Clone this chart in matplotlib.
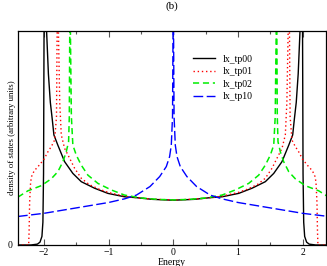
import numpy as np
import matplotlib
matplotlib.use("Agg")
import matplotlib.pyplot as plt
from matplotlib.ticker import MultipleLocator

plt.rcParams['font.family'] = ['Liberation Serif', 'DejaVu Serif']

# energies / density of states (values above 0.75 are clipped peaks)
e_tp00 = [-2.40, -2.20, -2.10, -2.06, -2.03, -2.015, -2.005, -1.995, -1.975, -1.958,
          -1.93, -1.90, -1.87, -1.845, -1.784, -1.679, -1.552, -1.422, -1.216, -1.011,
          -0.753, -0.572, -0.32, 0.0, 0.32, 0.572, 0.753, 1.011, 1.216, 1.422, 1.552,
          1.679, 1.784, 1.845, 1.87, 1.90, 1.93, 1.958, 1.975, 1.995, 2.005, 2.015,
          2.03, 2.06, 2.10, 2.20, 2.40]
dos_tp00 = [0.0, 0.0, 0.003, 0.010, 0.030, 0.08, 0.25, 0.9, 1.2, 0.75,
            0.60, 0.50, 0.44, 0.386, 0.350, 0.292, 0.251, 0.222, 0.199, 0.181,
            0.169, 0.166, 0.160, 0.157, 0.160, 0.166, 0.169, 0.181, 0.199, 0.222, 0.251,
            0.292, 0.350, 0.386, 0.44, 0.50, 0.60, 0.75, 1.2, 0.9, 0.25, 0.08,
            0.030, 0.010, 0.003, 0.0, 0.0]

e_tp01 = [-2.40, -2.235, -2.228, -2.22, -2.205, -2.19, -2.15, -2.09, -2.0, -1.93,
          -1.885, -1.834, -1.805, -1.795, -1.785, -1.775, -1.755, -1.731, -1.680, -1.602,
          -1.525, -1.422, -1.30, -1.15, -1.00, -0.75, -0.50, -0.25, 0.0,
          0.25, 0.50, 0.75, 1.00, 1.15, 1.30, 1.422, 1.525, 1.602, 1.680, 1.731,
          1.755, 1.775, 1.785, 1.795, 1.805, 1.834, 1.885, 1.93, 2.0, 2.09, 2.15,
          2.19, 2.205, 2.22, 2.228, 2.235, 2.40]
dos_tp01 = [0.0, 0.0, 0.05, 0.15, 0.22, 0.24, 0.26, 0.275, 0.30, 0.33,
            0.345, 0.368, 0.45, 0.75, 1.2, 0.75, 0.50, 0.386, 0.339, 0.304,
            0.269, 0.234, 0.212, 0.196, 0.184, 0.171, 0.164, 0.160, 0.158,
            0.160, 0.164, 0.171, 0.184, 0.196, 0.212, 0.234, 0.269, 0.304, 0.339, 0.386,
            0.50, 0.75, 1.2, 0.75, 0.45, 0.368, 0.345, 0.33, 0.30, 0.275, 0.26,
            0.24, 0.22, 0.15, 0.05, 0.0, 0.0]

e_tp02 = [-2.40, -2.247, -2.04, -1.886, -1.784, -1.706, -1.654, -1.618, -1.607, -1.600,
          -1.595, -1.590, -1.575, -1.552, -1.499, -1.422, -1.32, -1.165, -0.958, -0.753,
          -0.50, -0.25, 0.0, 0.25, 0.50, 0.753, 0.958, 1.165, 1.32, 1.422, 1.499,
          1.552, 1.575, 1.590, 1.595, 1.600, 1.607, 1.618, 1.654, 1.706, 1.784, 1.886,
          2.04, 2.247, 2.40]
dos_tp02 = [0.168, 0.190, 0.208, 0.232, 0.257, 0.292, 0.327, 0.362, 0.45, 0.75,
            1.2, 0.75, 0.45, 0.350, 0.315, 0.280, 0.245, 0.216, 0.193, 0.175,
            0.165, 0.160, 0.158, 0.160, 0.165, 0.175, 0.193, 0.216, 0.245, 0.280, 0.315,
            0.350, 0.45, 0.75, 1.2, 0.75, 0.45, 0.362, 0.327, 0.292, 0.257, 0.232,
            0.208, 0.190, 0.168]

e_tp10 = [-2.40, -2.0, -1.5, -1.0, -0.75, -0.57, -0.36, -0.21, -0.108, -0.057,
          -0.031, -0.012, -0.004, 0.0, 0.004, 0.012, 0.031, 0.057, 0.108, 0.21,
          0.36, 0.57, 0.75, 1.0, 1.5, 2.0, 2.40]
dos_tp10 = [0.100, 0.111, 0.130, 0.149, 0.162, 0.175, 0.205, 0.240, 0.275, 0.310,
            0.350, 0.45, 0.75, 1.5, 0.75, 0.45, 0.350, 0.310, 0.275, 0.240,
            0.205, 0.175, 0.162, 0.149, 0.130, 0.111, 0.100]

fig = plt.figure(figsize=(3.27, 2.66), dpi=100)
ax = fig.add_axes([0.055, 0.079, 0.942, 0.804])

ax.plot(e_tp00, dos_tp00, color='black', lw=1.0, label='lx_tp00')
ax.plot(e_tp01, dos_tp01, color='red', lw=1.0, linestyle=(0, (1, 2)), label='lx_tp01')
ax.plot(e_tp02, dos_tp02, color='#00ee00', lw=1.1, linestyle=(0, (4, 2.5)), label='lx_tp02')
ax.plot(e_tp10, dos_tp10, color='blue', lw=1.0, linestyle=(0, (7, 2.5)), label='lx_tp10')

ax.set_xlim(-2.4, 2.36)
ax.set_ylim(0, 0.75)
ax.xaxis.set_major_locator(MultipleLocator(1))
ax.xaxis.set_minor_locator(MultipleLocator(0.5))
ax.set_yticks([0])
ax.tick_params(axis='x', which='both', direction='in', top=True, labelsize=7, pad=2)
ax.tick_params(axis='x', which='major', length=4, width=0.8, color='#555555')
ax.tick_params(axis='x', which='minor', length=2.5, width=0.8, color='#555555')
ax.tick_params(axis='y', length=0, labelsize=7, pad=4)
for s in ax.spines.values():
    s.set_linewidth(0.9)

ax.set_xlabel('Energy', fontsize=7, labelpad=1)
ax.set_ylabel('density of states (arbitrary units)', fontsize=6.3)
ax.yaxis.set_label_coords(-0.006, 0.5)
ax.set_title('(b)', fontsize=8, pad=16)

ax.legend(loc='upper left', bbox_to_anchor=(0.54, 0.93), frameon=False, fontsize=7,
          handlelength=2.3, handletextpad=0.8, labelspacing=0.35)

fig.savefig('out.png', dpi=100)
